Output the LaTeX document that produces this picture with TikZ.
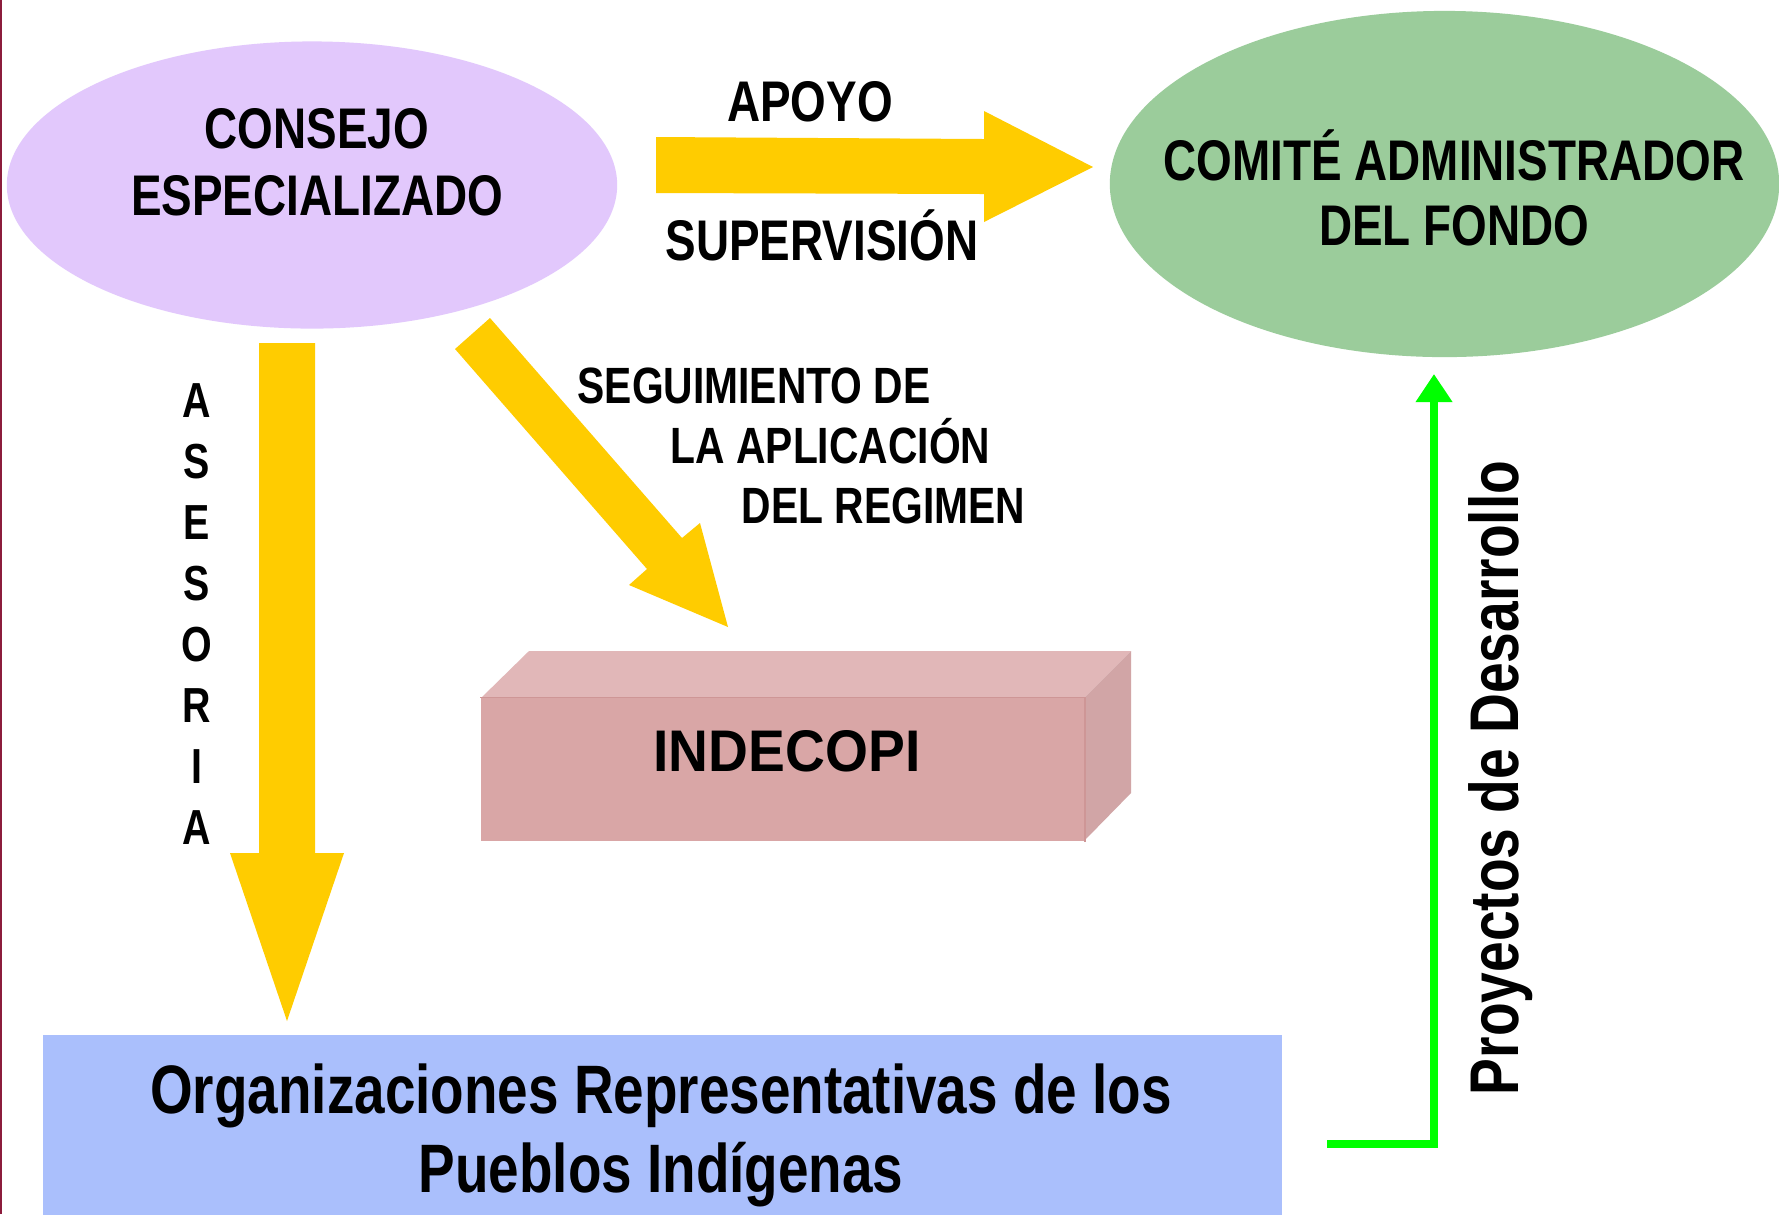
\documentclass[tikz,border=0pt]{standalone}
\usepackage{fontspec}
\newfontfamily\nar[FakeStretch=0.8]{Liberation Sans}
\newfontfamily\wid[FakeStretch=0.94]{Liberation Sans}
\usetikzlibrary{shapes.geometric,arrows.meta}
\definecolor{lav}{RGB}{226,200,252}
\definecolor{grn}{RGB}{155,204,155}
\definecolor{ylw}{RGB}{255,204,0}
\definecolor{frontc}{RGB}{217,166,166}
\definecolor{topc}{RGB}{225,183,184}
\definecolor{sidec}{RGB}{209,165,166}
\definecolor{edgec}{RGB}{206,150,150}
\definecolor{blu}{RGB}{170,191,252}
\definecolor{limeg}{RGB}{0,255,0}
\definecolor{leftc}{RGB}{140,28,60}
\begin{document}
\begin{tikzpicture}[x=0.01cm,y=-0.01cm,
  big/.style={font=\nar\bfseries\fontsize{16.3pt}{19pt}\selectfont, inner sep=0, anchor=base},
  mid/.style={font=\nar\bfseries\fontsize{14.5pt}{17pt}\selectfont, inner sep=0, anchor=base west},
  letter/.style={font=\nar\bfseries\fontsize{14pt}{17pt}\selectfont, inner sep=0, anchor=base},
  huge/.style={font=\nar\bfseries\fontsize{19.5pt}{23pt}\selectfont, inner sep=0, anchor=base},
  yarrow/.style={fill=ylw},
  garrow/.style={draw=limeg, line width=2.3pt, -{Triangle[length=8pt,width=10pt]}}]
\useasboundingbox (0,0) rectangle (1779,1214);
\fill[white] (0,0) rectangle (1779,1214);
\draw[leftc, line width=0.7pt] (1,0) -- (1,1214);

% ellipses
\node[ellipse, fill=lav, minimum width=6.1cm, minimum height=2.87cm, inner sep=0] (cons) at (312,185) {};
\node[big] (cons1) at (317,148) {CONSEJO};
\node[big] (cons2) at (317,215) {ESPECIALIZADO};

\node[ellipse, fill=grn, minimum width=6.69cm, minimum height=3.46cm, inner sep=0] (comi) at (1444.5,184) {};
\node[big] (comi1) at (1454,180) {COMITÉ ADMINISTRADOR};
\node[big] (comi2) at (1454,245) {DEL FONDO};

% apoyo arrow
\fill[yarrow] (656,137) -- (984,139) -- (984,111) -- (1093,167) -- (984,222) -- (984,194) -- (656,193) -- cycle;
\node[big] (apoyo) at (810,121) {APOYO};
\node[big] (superv) at (822,260) {SUPERVISIÓN};

% asesoria arrow
\fill[yarrow] (259,343) -- (315,343) -- (315,853) -- (344,853) -- (287,1021) -- (230,853) -- (259,853) -- cycle;
\foreach \l [count=\i from 0] in {A,S,E,S,O,R,I,A}
  \node[letter] (as\i) at (197,{417+61.1*\i}) {\l};

% diagonal arrow
\fill[yarrow] (455,349) -- (490,318) -- (682,538) -- (700,523) -- (728,627) -- (629,585) -- (647,569) -- cycle;
\node[mid] (seg1) at (577,403) {SEGUIMIENTO DE};
\node[mid] (seg2) at (670,463) {LA APLICACIÓN};
\node[mid] (seg3) at (741,523) {DEL REGIMEN};

% INDECOPI box
\fill[topc] (481,698) -- (529,651) -- (1131,651) -- (1084,698) -- cycle;
\fill[sidec] (1084,698) -- (1131,651) -- (1131,793) -- (1084,841) -- cycle;
\node[fill=frontc, minimum width=6.03cm, minimum height=1.43cm, inner sep=0] (inde) at (782.5,769.5) {};
\draw[edgec, line width=0.4pt] (inde.north west) -- (inde.north east) -- (inde.south east);
\node[font=\wid\bfseries\fontsize{16.7pt}{20pt}\selectfont, inner sep=0, anchor=base] (indet) at (787,771) {INDECOPI};

% bottom box
\node[fill=blu, minimum width=12.39cm, minimum height=1.80cm, inner sep=0] (org) at (662.5,1125) {};
\node[huge] (org1) at (661,1113) {Organizaciones Representativas de los};
\node[huge] (org2) at (661,1192) {Pueblos Indígenas};

% green arrow
\coordinate (gs) at (1327,1144);
\coordinate (ge) at (1434,374);
\draw[garrow] (gs) -| (ge);
\node[font=\nar\bfseries\fontsize{19.6pt}{24pt}\selectfont, inner sep=0, anchor=base, rotate=90] (proy) at (1518,778) {Proyectos de Desarrollo};
\end{tikzpicture}
\end{document}
